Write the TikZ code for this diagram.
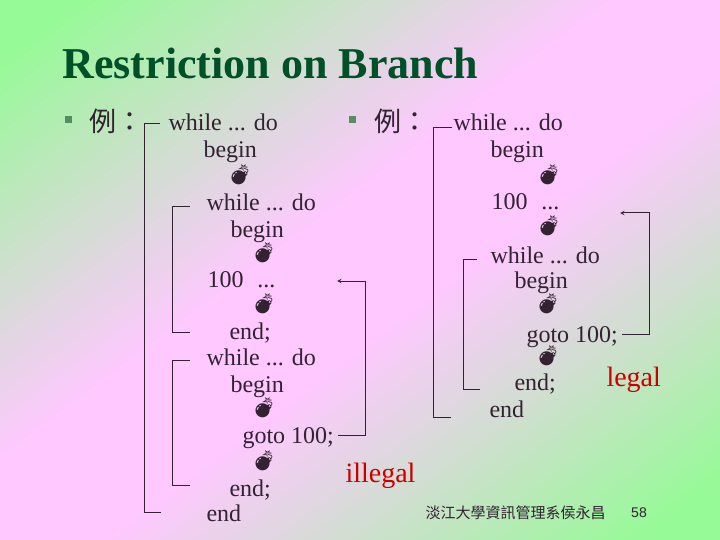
\documentclass[tikz,border=0pt]{standalone}
\usepackage{fontspec}
\setmainfont{Liberation Serif}
\newfontfamily\cjkfont{Noto Sans CJK TC}
\newfontfamily\emojifont{Noto Emoji}
\newfontfamily\numfont{Liberation Sans}

\definecolor{bggreen}{RGB}{150,250,150}
\definecolor{bgpink}{RGB}{255,200,255}
\definecolor{ink}{RGB}{50,34,50}
\definecolor{titlegreen}{RGB}{0,80,40}
\definecolor{bulletgreen}{RGB}{90,140,100}
\definecolor{warnred}{RGB}{200,0,0}

\tikzset{
  title/.style={anchor=base west, inner sep=0pt, text=titlegreen,
    font=\fontsize{44}{50}\selectfont\bfseries},
  bulletbox/.style={fill=bulletgreen, inner sep=0pt, minimum size=7pt},
  cjk/.style={anchor=base west, inner sep=0pt, text=ink,
    font=\cjkfont\fontsize{27}{30}\selectfont},
  code/.style={anchor=base west, inner sep=0pt, text depth=0pt, text=ink,
    font=\fontsize{24}{28}\selectfont},
  bomb/.style={inner sep=0pt, text=ink, font=\emojifont\fontsize{20}{20}\selectfont},
  verdict/.style={anchor=base west, inner sep=0pt, text=warnred,
    font=\fontsize{28}{32}\selectfont},
}

\begin{document}
\begin{tikzpicture}[x=1pt, y=-1pt, >=stealth, line width=1pt, draw=ink]
  % background: green corners, pink across the other diagonal
  \begin{scope}
    \clip (0,0) rectangle (720,540);
    \foreach \i in {0,...,89} {
      \pgfmathsetmacro\sa{\i/45}
      \pgfmathsetmacro\sb{(\i+1.4)/45}
      \pgfmathtruncatemacro\p{max(0,min(100,((1-abs((\i+0.5)/45-1))-0.1)/0.75*100))}
      \fill[bgpink!\p!bggreen] (720*\sa+720,-540) -- (720*\sb+720,-540)
        -- (720*\sb-1440,1080) -- (720*\sa-1440,1080) -- cycle;
    }
  \end{scope}
  \useasboundingbox (0,0) rectangle (720,540);

  \node[title] (title) at (62,79) {Restriction on Branch};

  % left example
  \node[bulletbox] (bulL) at (68,120) {};
  \node[cjk] (liL) at (89,132) {例：};

  \node[code] (w1L) at (168,131) {while ... do};
  \node[code] (b1L) at (203,158) {begin};
  \node[bomb] (m1L) at (240,175) {💣};
  \node[code] (w2L) at (206,211) {while ... do};
  \node[code] (b2L) at (230,237) {begin};
  \node[bomb] (m2L) at (264,253) {💣};
  \node[code] (lblL) at (207,287) {100\hspace{14pt}...};
  \node[bomb] (m3L) at (264,304) {💣};
  \node[code] (e2L) at (229,339) {end;};
  \node[code] (w3L) at (206,365) {while ... do};
  \node[code] (b3L) at (230,392) {begin};
  \node[bomb] (m4L) at (264,408) {💣};
  \node[code] (gotoL) at (242,443) {goto 100;};
  \node[bomb] (m5L) at (264,461) {💣};
  \node[code] (e3L) at (229,496) {end;};
  \node[code] (e1L) at (206,521) {end};
  \node[verdict] (badL) at (345,482) {illegal};

  \draw (160,124) -- (144,124) -- (144,512) -- (161,512);
  \draw (190,207) -- (172,207) -- (172,332) -- (190,332);
  \draw (190,360) -- (172,360) -- (172,485) -- (190,485);

  \coordinate (cornerL) at (365,281);
  \coordinate (tgtL) at (337,281);
  \draw[->] ([xshift=4pt]gotoL.east) -| (cornerL) -- (tgtL);

  % right example
  \node[bulletbox] (bulR) at (352,120) {};
  \node[cjk] (liR) at (374,132) {例：};

  \node[code] (w1R) at (453,131) {while ... do};
  \node[code] (b1R) at (490,158) {begin};
  \node[bomb] (m1R) at (549,175) {💣};
  \node[code] (lblR) at (491,210) {100\hspace{14pt}...};
  \node[bomb] (m2R) at (549,226) {💣};
  \node[code] (w2R) at (490,263) {while ... do};
  \node[code] (b2R) at (514,288) {begin};
  \node[bomb] (m3R) at (548,304) {💣};
  \node[code] (gotoR) at (526,342) {goto 100;};
  \node[bomb] (m4R) at (548,356) {💣};
  \node[code] (e2R) at (514,390) {end;};
  \node[code] (e1R) at (489,417) {end};
  \node[verdict] (okR) at (606,386) {legal};

  \draw (452,128) -- (433,128) -- (433,417) -- (451,417);
  \draw (477,259) -- (463,259) -- (463,389) -- (480,389);

  \coordinate (cornerR) at (649,213);
  \coordinate (tgtR) at (620,213);
  \draw[->] ([xshift=4pt]gotoR.east) -| (cornerR) -- (tgtR);

  % footer
  \node[anchor=west, inner sep=0pt, text=ink, font=\cjkfont\fontsize{15}{15}\selectfont]
    (foot) at (425,513) {淡江大學資訊管理系侯永昌};
  \node[inner sep=0pt, text=ink, font=\numfont\fontsize{14}{14}\selectfont]
    (page) at (639,513) {58};
\end{tikzpicture}
\end{document}
